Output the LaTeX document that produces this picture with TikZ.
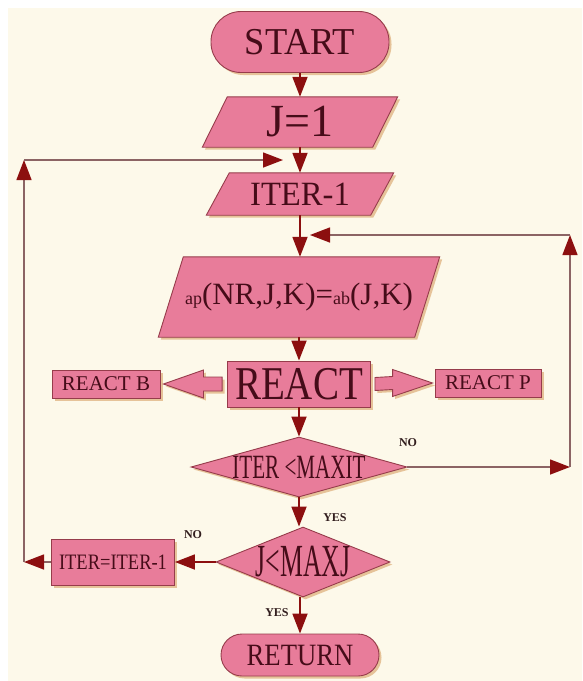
\documentclass[tikz,border=0pt]{standalone}
\usepackage{fontspec}
\setmainfont{Liberation Serif}
\usepackage{graphicx}
\usetikzlibrary{shapes.geometric,arrows.meta,shadows,calc,backgrounds}
\definecolor{bgcream}{RGB}{253,249,234}
\definecolor{boxpink}{RGB}{232,124,154}
\definecolor{boxline}{RGB}{150,60,75}
\definecolor{txtdark}{RGB}{70,12,25}
\definecolor{arrowred}{RGB}{140,15,15}
\definecolor{linegray}{RGB}{140,100,100}
\definecolor{shadowtan}{RGB}{215,160,100}
\definecolor{lbltxt}{RGB}{50,30,30}
\newcommand{\myfs}[1]{\fontsize{#1}{#1}\selectfont}
\tikzset{
  boxbase/.style={draw=boxline, line width=0.9pt, fill=boxpink,
    drop shadow={shadow xshift=2.5pt, shadow yshift=-2.5pt, fill=shadowtan, opacity=0.6}},
  box/.style={boxbase, text=txtdark, inner sep=0pt, rectangle},
  pill/.style={box, rounded corners=#1},
  paratext/.style={text=txtdark, inner sep=0pt, rectangle},
  decision/.style={boxbase, diamond, inner sep=0pt},
  flow/.style={draw=arrowred, line width=1.8pt, -{Triangle[length=20pt,width=15pt]}},
  loopseg/.style={draw=linegray, line width=1.4pt},
  loophead/.style={loopseg, -{Triangle[length=20pt,width=15pt,color=arrowred]}},
  yesno/.style={text=lbltxt, font=\bfseries\myfs{12}, inner sep=0pt},
}
\begin{document}
\begin{tikzpicture}[x=1pt,y=-1pt]
\useasboundingbox (0,0) rectangle (582,681);

% nodes
\node[pill=30pt, minimum width=178pt, minimum height=61pt, font=\myfs{38}] (start) at (300,42) {\scalebox{0.96}[1]{START}};
\node[paratext, minimum width=170pt, minimum height=50pt, font=\myfs{46}] (j1) at (300,122) {J=1};
\node[paratext, minimum width=164pt, minimum height=42pt, font=\myfs{34}] (it1) at (300,194) {\scalebox{0.96}[1]{ITER-1}};
\node[paratext, minimum width=256pt, minimum height=80pt] (ap) at (299,297)
  {{\myfs{18}ap}{\myfs{31}(NR,J,K)=}{\myfs{18}ab}{\myfs{31}(J,K)}};
\node[box, minimum width=143pt, minimum height=46pt, font=\myfs{47}] (react) at (299,384) {\scalebox{0.83}[1]{REACT}};
\node[box, minimum width=108pt, minimum height=28pt, font=\myfs{21}] (reactb) at (106,384) {REACT B};
\node[box, minimum width=106pt, minimum height=28pt, font=\myfs{21}] (reactp) at (488,383) {REACT P};
\node[decision, minimum width=216pt, minimum height=60pt,
  label={[text=txtdark,font=\myfs{34}]center:\scalebox{0.62}[1]{ITER <MAXIT}}] (d1) at (299,467) {};
\node[decision, minimum width=174pt, minimum height=70pt,
  label={[text=txtdark,font=\myfs{46}]center:\scalebox{0.56}[1]{J<MAXJ}}] (d2) at (303,562) {};
\node[box, minimum width=123pt, minimum height=46pt, font=\myfs{22}] (iterm) at (113,562) {\scalebox{0.84}[1]{ITER=ITER-1}};
\node[pill=21pt, minimum width=158pt, minimum height=42pt, font=\myfs{31}] (ret) at (300,655) {\scalebox{0.86}[1]{RETURN}};

% labels
\node[yesno] (no1) at (408,443) {NO};
\node[yesno] (yes1) at (335,518) {YES};
\node[yesno] (no2) at (193,535) {NO};
\node[yesno] (yes2) at (277,613) {YES};

% background and parallelograms
\begin{scope}[on background layer]
\fill[white] (0,0) rectangle (582,681);
\fill[bgcream] (8,8) rectangle (582,681);
\draw[boxbase] ($(j1.south west)+(-12.5,0)$) -- ($(j1.south east)+(-12.5,0)$) -- ($(j1.north east)+(12.5,0)$) -- ($(j1.north west)+(12.5,0)$) -- cycle;
\draw[boxbase] ($(it1.south west)+(-11.5,0)$) -- ($(it1.south east)+(-11.5,0)$) -- ($(it1.north east)+(11.5,0)$) -- ($(it1.north west)+(11.5,0)$) -- cycle;
\draw[boxbase] ($(ap.south west)+(-12.5,0)$) -- ($(ap.south east)+(-12.5,0)$) -- ($(ap.north east)+(12.5,0)$) -- ($(ap.north west)+(12.5,0)$) -- cycle;
\end{scope}

% block arrows
\coordinate (lbT) at ($(reactb.east)+(3,0)$);
\coordinate (lbB) at ($(react.west)+(-5,0)$);
\draw[boxbase] (lbT) -- ($(lbT)+(40,-14)$) -- ($(lbT)+(40,-7)$) -- ($(lbB)+(0,-7)$) -- ($(lbB)+(0,7)$) -- ($(lbT)+(40,7)$) -- ($(lbT)+(40,14)$) -- cycle;
\coordinate (rbT) at ($(reactp.west)+(-2,0)$);
\coordinate (rbB) at ($(react.east)+(4,0)$);
\draw[boxbase] (rbT) -- ($(rbT)+(-40,-13.5)$) -- ($(rbT)+(-40,-6.5)$) -- ($(rbB)+(0,-6.5)$) -- ($(rbB)+(0,6.5)$) -- ($(rbT)+(-40,6.5)$) -- ($(rbT)+(-40,13.5)$) -- cycle;

% main flow
\draw[flow] (start.south) -- (j1.north);
\draw[flow] (j1.south) -- (it1.north);
\draw[flow] (it1.south) -- (it1.south |- ap.north);
\draw[flow] (react.north |- ap.south) -- (react.north);
\draw[flow] (react.south) -- (react.south |- d1.north);
\draw[flow] (d1.south) -- (d1.south |- d2.north);
\draw[flow] (ret.north |- d2.south) -- (ret.north);
\draw[flow] (d2.west) -- (iterm.east);

% left loop
\coordinate (cL1) at (24,562);
\coordinate (cL2) at (24,160);
\coordinate (cL3) at (283,160);
\draw[loophead] (iterm.west) -- (cL1);
\draw[loophead] (cL1) -- (cL2);
\draw[loophead] (cL2) -- (cL3);

% right loop
\coordinate (cR1) at (570,467);
\coordinate (cR2) at (570,235);
\coordinate (cR3) at (310,235);
\draw[loophead] (d1.east) -- (cR1);
\draw[loophead] (cR1) -- (cR2);
\draw[loophead] (cR2) -- (cR3);
\end{tikzpicture}
\end{document}
